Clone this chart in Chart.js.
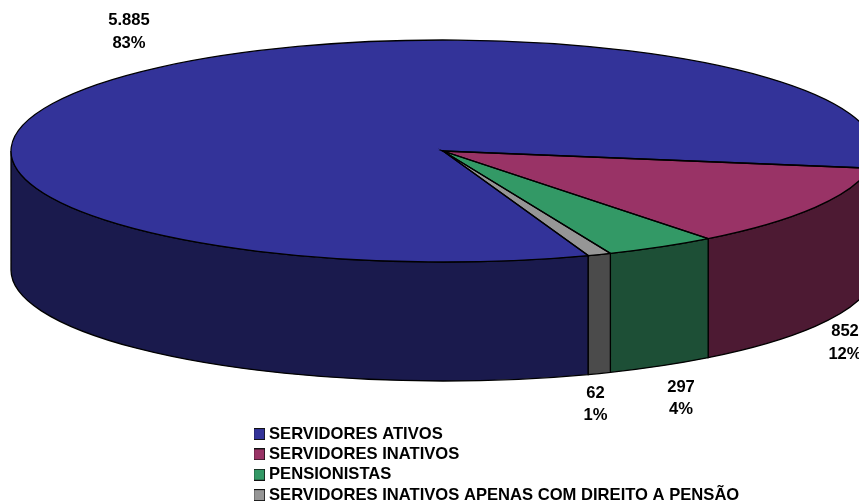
<!DOCTYPE html>
<html>
<head>
<meta charset="utf-8">
<style>html,body{margin:0;padding:0;background:#fff;overflow:hidden}canvas{display:block}</style>
<script src="https://cdn.jsdelivr.net/npm/chart.js@4"></script>
</head>
<body>
<canvas id="c" width="859" height="502"></canvas>
<script>
const categories = ['SERVIDORES ATIVOS','SERVIDORES INATIVOS','PENSIONISTAS','SERVIDORES INATIVOS APENAS COM DIREITO A PENSÃO'];
const values = [5885, 852, 297, 62];
const valueLabels = ['5.885','852','297','62'];
const percentLabels = ['83%','12%','4%','1%'];
const topColors = ['#333399','#993366','#339966','#969696'];
const sideColors = ['#1a1a4d','#4d1a33','#1d4f36','#4b4b4b'];

const FONT_SIZE = 16.6;
const FONT_FAMILY = '"Liberation Sans", Arial, sans-serif';
const ELLIPSE = {cx: 443, cy: 151, rx: 432, ry: 111, depth: 119};
const LABEL_POS = [[129,20.7,43.7],[845,331.7,354.7],[681,387.7,409.7],[595.5,393.7,415.7]];
const LINE_W = 1.3;

function legendSwatch(color) {
  const c = document.createElement('canvas');
  c.width = 12; c.height = 12;
  const g = c.getContext('2d');
  g.fillStyle = color; g.fillRect(0, 0, 12, 12);
  g.strokeStyle = '#111'; g.lineWidth = 1; g.strokeRect(0.5, 0.5, 11, 11);
  return c;
}

const pie3d = {
  id: 'pie3d',
  afterLayout(chart) {
    const lg = chart.legend;
    lg.left = 254; lg.top = 422; lg.right = lg.left + lg.width; lg.bottom = 700;
  },
  beforeDatasetsDraw(chart) {
    const ctx = chart.ctx, E = ELLIPSE;
    const arcs = chart.getDatasetMeta(0).data;
    ctx.save();
    ctx.lineWidth = LINE_W; ctx.strokeStyle = '#000';
    arcs.forEach((arc, i) => {
      const p = arc.getProps(['startAngle','endAngle'], true);
      const TAU = Math.PI * 2;
      let s = p.startAngle % TAU; if (s < 0) s += TAU;
      const e = s + (p.endAngle - p.startAngle);
      [[0, Math.PI],[TAU, TAU + Math.PI]].forEach(([lo, hi]) => {
        const a = Math.max(s, lo), b = Math.min(e, hi);
        if (b <= a) return;
        ctx.beginPath();
        ctx.ellipse(E.cx, E.cy, E.rx, E.ry, 0, a, b);
        ctx.ellipse(E.cx, E.cy + E.depth, E.rx, E.ry, 0, b, a, true);
        ctx.closePath();
        ctx.fillStyle = sideColors[i];
        ctx.fill();
        ctx.stroke();
      });
    });
    ctx.restore();
    const a0 = arcs[0].getProps(['x','y','outerRadius'], true);
    ctx.save();
    ctx.translate(E.cx, E.cy);
    ctx.scale(E.rx / a0.outerRadius, E.ry / a0.outerRadius);
    ctx.translate(-a0.x, -a0.y);
  },
  afterDatasetsDraw(chart) {
    const ctx = chart.ctx, E = ELLIPSE;
    ctx.restore();
    const arcs = chart.getDatasetMeta(0).data;
    ctx.save();
    ctx.lineWidth = LINE_W; ctx.strokeStyle = '#000';
    arcs.forEach(arc => {
      const p = arc.getProps(['startAngle','endAngle'], true);
      ctx.beginPath();
      ctx.moveTo(E.cx, E.cy);
      ctx.ellipse(E.cx, E.cy, E.rx, E.ry, 0, p.startAngle, p.endAngle);
      ctx.closePath();
      ctx.stroke();
    });
    ctx.fillStyle = '#000';
    ctx.font = 'bold ' + FONT_SIZE + 'px ' + FONT_FAMILY;
    ctx.textAlign = 'center';
    ctx.textBaseline = 'middle';
    valueLabels.forEach((t, i) => {
      const [x, y1, y2] = LABEL_POS[i];
      ctx.fillText(t, x, y1);
      ctx.fillText(percentLabels[i], x, y2);
    });
    ctx.restore();
  }
};

new Chart(document.getElementById('c'), {
  type: 'pie',
  data: {
    labels: categories,
    datasets: [{data: values, backgroundColor: topColors, borderWidth: 0, clip: false}]
  },
  options: {
    responsive: false,
    animation: false,
    rotation: 160.35,
    layout: {padding: 0},
    plugins: {
      tooltip: {enabled: false},
      legend: {
        position: 'chartArea',
        align: 'start',
        labels: {
          color: '#000',
          font: {family: FONT_FAMILY, size: FONT_SIZE, weight: 'bold'},
          usePointStyle: true, pointStyleWidth: 3, boxHeight: 12, padding: 3.75,
          generateLabels: () => categories.map((c, i) => ({
            text: c, fillStyle: topColors[i], strokeStyle: '#000', lineWidth: 1,
            pointStyle: legendSwatch(topColors[i]), hidden: false, index: i
          }))
        }
      }
    }
  },
  plugins: [pie3d]
});
</script>
</body>
</html>
